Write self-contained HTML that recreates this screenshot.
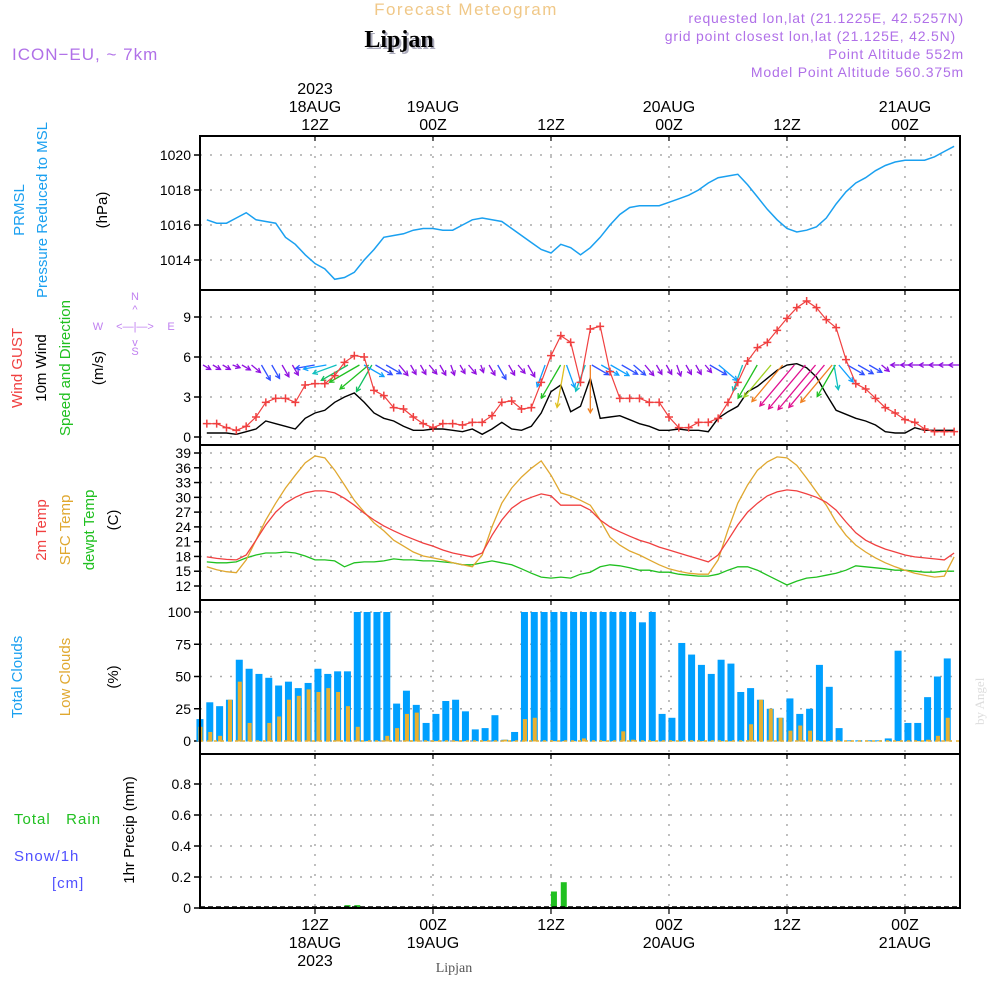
<!DOCTYPE html>
<html><head><meta charset="utf-8"><style>
body{margin:0;background:#fff}
svg{display:block;font-family:"Liberation Sans",sans-serif}
</style></head><body>
<svg id="c" width="1000" height="1000" viewBox="0 0 1000 1000">
<text x="466" y="15" font-size="17" fill="#f0c888" text-anchor="middle" letter-spacing="1.5">Forecast Meteogram</text>
<text x="401" y="49" font-size="24" font-weight="bold" fill="#aab" text-anchor="middle" font-family="Liberation Serif">Lipjan</text>
<text x="399" y="47" font-size="24" font-weight="bold" fill="#000" text-anchor="middle" font-family="Liberation Serif">Lipjan</text>
<text x="12" y="60" font-size="17" fill="#b070e8" letter-spacing="1">ICON−EU, ~ 7km</text>
<g font-size="14" fill="#b070e8" text-anchor="end" letter-spacing="0.8">
<text x="964" y="23">requested lon,lat (21.1225E, 42.5257N)</text>
<text x="956" y="41">grid point closest lon,lat (21.125E, 42.5N)</text>
<text x="964" y="59">Point Altitude 552m</text>
<text x="964" y="77">Model Point Altitude 560.375m</text>
</g>
<g id="plots"></g>
<text x="454" y="972" font-size="14" fill="#555" text-anchor="middle" font-family="Liberation Serif">Lipjan</text>
<text x="0" y="0" font-size="13" fill="#ddd" font-family="Liberation Serif" transform="translate(984,725) rotate(-90)">by Angel</text>
</svg>
<script>
const pressure=[1016.3,1016.1,1016.1,1016.4,1016.7,1016.3,1016.2,1016.1,1015.3,1014.9,1014.3,1013.8,1013.5,1012.9,1013.0,1013.3,1014.0,1014.6,1015.3,1015.4,1015.5,1015.7,1015.8,1015.8,1015.7,1015.7,1016.0,1016.3,1016.4,1016.3,1016.2,1015.8,1015.4,1015.0,1014.6,1014.4,1014.9,1014.7,1014.3,1014.7,1015.3,1016.0,1016.6,1017.0,1017.1,1017.1,1017.1,1017.3,1017.5,1017.7,1018.0,1018.4,1018.7,1018.8,1018.9,1018.3,1017.6,1016.9,1016.3,1015.8,1015.6,1015.7,1015.9,1016.4,1017.2,1017.9,1018.4,1018.7,1019.1,1019.4,1019.6,1019.7,1019.7,1019.7,1019.9,1020.2,1020.5];
const gust=[1.0,1.0,0.7,0.5,0.8,1.5,2.6,2.9,2.9,2.6,3.9,4.0,4.0,4.6,5.6,6.1,6.0,3.5,3.1,2.2,2.1,1.5,1.0,0.7,1.0,1.0,0.9,1.1,1.1,1.6,2.6,2.7,2.1,2.2,4.1,6.1,7.6,7.1,4.1,8.1,8.3,4.9,2.9,2.9,2.9,2.6,2.6,1.5,0.7,0.7,1.1,1.1,1.4,2.6,4.1,5.7,6.7,7.1,8.0,8.9,9.7,10.2,9.7,8.8,8.2,5.8,4.0,3.6,2.9,2.2,1.8,1.3,1.1,0.6,0.4,0.4,0.4];
const wind=[0.3,0.3,0.3,0.2,0.4,0.6,1.2,1.0,0.8,0.6,1.4,1.8,2.0,2.6,3.0,3.3,2.6,1.8,1.4,1.2,0.8,0.5,0.5,0.6,0.6,0.5,0.4,0.6,0.2,0.6,1.1,0.6,0.5,0.8,1.8,3.4,3.9,1.9,2.3,4.4,1.4,1.5,1.6,1.3,1.0,0.8,0.5,0.5,0.6,0.5,0.5,0.4,1.4,1.9,2.3,3.4,3.8,4.4,5.0,5.4,5.5,5.2,4.5,3.2,2.0,1.7,1.4,1.2,0.9,0.4,0.3,0.3,0.7,0.5,0.5,0.5,0.5];
const windDir=[300,300,300,290,300,310,330,330,330,330,80,80,70,60,60,50,30,300,300,300,320,330,330,320,330,340,330,320,340,330,330,330,320,330,20,30,10,340,20,0,300,300,300,300,310,320,330,330,340,330,330,320,300,310,20,30,40,40,40,40,40,40,40,30,350,320,300,300,300,310,90,90,90,90,90,90,90];
const temp2m=[17.9,17.6,17.4,17.3,18.3,21.3,24.4,27.0,28.8,30.0,30.9,31.3,31.3,30.9,29.8,28.4,26.8,25.4,24.2,23.2,22.3,21.5,20.7,20.1,19.3,18.7,18.3,17.9,18.7,22.3,25.4,27.8,29.2,30.0,30.7,30.3,28.4,28.4,28.4,27.4,25.4,24.0,23.0,22.1,21.3,20.7,19.9,19.3,18.7,18.1,17.5,16.9,18.3,21.3,24.4,27.0,28.8,30.3,31.1,31.5,31.3,30.7,30.0,29.0,27.4,25.0,22.8,21.3,20.3,19.5,18.9,18.3,17.9,17.7,17.5,17.3,18.7];
const sfcTemp=[15.9,15.3,14.9,14.7,17.3,21.3,25.4,28.8,31.9,34.5,37.0,38.4,38.0,35.5,32.5,29.4,27.0,24.8,23.2,21.3,20.1,18.9,18.1,17.7,17.3,16.7,16.3,15.9,18.3,24.0,28.8,31.9,34.1,35.9,37.4,34.5,30.9,30.3,29.4,28.4,25.4,21.9,20.3,19.1,18.3,17.3,16.3,15.5,15.0,14.6,14.4,14.4,17.3,23.4,28.8,32.5,35.5,37.2,38.2,38.0,36.5,33.9,31.1,28.4,25.0,22.3,20.3,18.9,17.7,16.7,15.9,15.2,14.6,14.2,13.8,14.0,17.9];
const dewpt=[16.9,16.7,16.7,16.9,17.7,18.3,18.7,18.7,18.9,18.7,18.1,17.3,17.3,17.1,15.9,16.7,16.9,16.9,17.1,17.5,17.3,17.3,17.1,17.1,16.9,16.7,16.3,16.3,16.7,17.1,16.7,16.3,15.5,14.6,13.8,13.6,13.8,13.6,14.4,14.8,15.9,16.3,16.1,15.7,15.2,15.2,14.8,14.8,14.4,14.2,14.0,14.0,14.4,15.2,15.9,15.9,15.2,14.2,13.2,12.2,13.0,13.6,13.8,14.2,14.6,15.2,16.1,15.9,15.7,15.5,15.2,15.2,15.0,14.8,14.8,15.0,15.0];
const totalClouds=[17,30,27,32,63,56,52,49,43,46,41,45,56,52,54,54,100,100,100,100,29,39,28,14,21,31,32,23,9,10,20,1,7,100,100,100,100,100,100,100,100,100,100,100,100,92,100,21,18,76,67,59,52,63,60,38,41,32,25,18,33,21,25,59,42,10,0.5,0.5,0.5,0.5,2,70,14,14,34,50,64];
const lowClouds=[11,7,4,32,46,14,0,14,19,32,35,40,38,41,38,27,11,0,0,4,10,21,22,0,0,0,0,0,0,0,0,1,0,17,18,0,0,0,0,2,0,0,0,7.5,1,0,0,0,0,0,0,0,0,0,0,0,13,32,25,18,8,12,8,0,0,0,0,0,0,0,0,0,0,0,1,4,18];
const precip=[0,0,0,0,0,0,0,0,0,0,0,0,0,0,0,0.012,0.012,0,0,0,0,0,0,0,0,0,0,0,0,0,0,0,0,0,0,0,0.1,0.16,0,0,0,0,0,0,0,0,0,0,0,0,0,0,0,0,0,0,0,0,0,0,0,0,0,0,0,0,0,0,0,0,0,0,0,0,0,0,0];
const pressTicks=[1014,1016,1018,1020];
const windTicks=[0,3,6,9];
const tempTicks=[12,15,18,21,24,27,30,33,36,39];
const cloudTicks=[0,25,50,75,100];
const precipTicks=[0,0.2,0.4,0.6,0.8];
const timeTicks=[12,24,36,48,60,72];
const topLabels=[["2023","18AUG","12Z"],["19AUG","00Z"],["12Z"],["20AUG","00Z"],["12Z"],["21AUG","00Z"]];
const bottomLabels=[["12Z","18AUG","2023"],["00Z","19AUG"],["12Z"],["00Z","20AUG"],["12Z"],["00Z","21AUG"]];

const NS='http://www.w3.org/2000/svg';
const G=document.getElementById('plots');
const X0=200,X1=960;
function xs(t){return 197+t*9.833;}
function mk(tag,at,parent){const e=document.createElementNS(NS,tag);for(const k in at)e.setAttribute(k,at[k]);(parent||G).appendChild(e);return e;}
function lin(d0,d1,r0,r1){return v=>r0+(v-d0)*(r1-r0)/(d1-d0);}
const yP=lin(1014,1020,260,155), yW=lin(0,9,437,317), yT=lin(12,39,586,453), yC=lin(0,100,741,612), yR=lin(0,0.8,908,784);
const panels=[[136,290,pressTicks,yP,v=>String(v)],[290,445,windTicks,yW,v=>String(v)],[445,600,tempTicks,yT,v=>String(v)],[600,754,cloudTicks,yC,v=>String(v)],[754,908,precipTicks,yR,v=>v===0?'0':v.toFixed(1)]];
panels.forEach((p,pi)=>{
  const g=mk('g',{});
  
  
  p[2].forEach(v=>{
    const y=p[3](v);
    const gl=mk('line',{x1:X0,x2:X1,y1:y,y2:y,stroke:'#aaa','stroke-dasharray':'2,8','stroke-width':1.5},g);
    
    
    mk('line',{x1:X0-6,x2:X0,y1:y,y2:y,stroke:'#000','stroke-width':1.5},g);
    const t=mk('text',{x:X0-9,y:y+5,'font-size':14,'text-anchor':'end',fill:'#000'},g);
    t.textContent=p[4](v);
    
    
  });
  timeTicks.forEach(tt=>{
    const x=xs(tt);
    const vl=mk('line',{x1:x,x2:x,y1:p[0],y2:p[1],stroke:'#aaa','stroke-dasharray':'2,8','stroke-width':1.5},g);
    
    
    mk('line',{x1:x,x2:x,y1:p[0],y2:p[0]+5,stroke:'#000','stroke-width':1.2},g);
  });
});
timeTicks.forEach((tt,i)=>{
  const x=xs(tt);
  const tl=topLabels[i];
  tl.forEach((s,j)=>{const t=mk('text',{x:x,y:126-(tl.length-1-j)*18+4,'font-size':16,'text-anchor':'middle'});t.textContent=s;
    
    });
  bottomLabels[i].forEach((s,j)=>{const t=mk('text',{x:x,y:930+j*18,'font-size':16,'text-anchor':'middle'});t.textContent=s;
    
    });
  mk('line',{x1:x,x2:x,y1:908,y2:914,stroke:'#000','stroke-width':1.2});
});
function path(arr,yf,color,w,name){
  const d=arr.map((v,i)=>(i?'L':'M')+xs(i+1).toFixed(1)+','+yf(v).toFixed(1)).join('');
  const p=mk('path',{d:d,fill:'none',stroke:color,'stroke-width':w||1.3});
  
  
  return p;
}
path(pressure,yP,'#1aa0f0',1.5,'pressure-line');
totalClouds.forEach((v,i)=>{const x=xs(i+0.3);
  const r=mk('rect',{x:x-3.5,y:yC(v),width:7,height:yC(0)-yC(v)+0.5,fill:'#00a0ff'});
  
  });
lowClouds.forEach((v,i)=>{const x=xs(i+0.3);
  const r=mk('rect',{x:x-1.5,y:yC(v),width:4,height:yC(0)-yC(v)+0.5,fill:'#e8b030'});
  
  });
mk('line',{x1:X0,x2:X1,y1:741,y2:741,stroke:'#e8b030','stroke-dasharray':'3,4','stroke-width':1.5});
precip.forEach((v,i)=>{if(v<=0)return;const x=xs(i+0.3);
  const r=mk('rect',{x:x-3,y:yR(v)-1,width:6,height:yR(0)-yR(v)+1,fill:'#20c020'});
  
  });
mk('line',{x1:X0,x2:X1,y1:907,y2:907,stroke:'#000','stroke-dasharray':'5,3','stroke-width':1.5});
path(dewpt,yT,'#20c020',1.3,'dewpoint-line');
path(sfcTemp,yT,'#e0a830',1.3,'sfc-temp-line');
path(temp2m,yT,'#f04040',1.3,'temp-2m-line');
path(wind,yW,'#000',1.4,'wind-speed-line');
function wcol(s){if(s<0.9)return '#9010e0';if(s<1.5)return '#3050ff';if(s<2)return '#10a0ff';if(s<2.5)return '#10c0c0';if(s<3)return '#10c060';if(s<3.5)return '#20c020';if(s<3.9)return '#a0d020';if(s<4.3)return '#e0c020';if(s<4.7)return '#f08020';return '#e01090';}
wind.forEach((s,i)=>{
  const x=xs(i+1), y=365;
  const L=6+s*9.5, a=(windDir[i]+180)*Math.PI/180;
  const dx=Math.sin(a)*L, dy=-Math.cos(a)*L;
  const x2=x+dx*0.5, y2=y+dy*0.5, x1=x-dx*0.5, y1=y-dy*0.5;
  const ya=Math.min(y1,y2)<365?365-Math.min(y1,y2):0;
  const c=wcol(s);
  const g=mk('g',{stroke:c,'stroke-width':1.3,fill:'none'});
  
  
  const sx=x1, sy=y1+ya, ex=x2, ey=y2+ya;
  mk('line',{x1:sx,y1:sy,x2:ex,y2:ey},g);
  const h=5, b=Math.atan2(ey-sy,ex-sx);
  mk('path',{d:`M${ex-h*Math.cos(b-0.5)},${ey-h*Math.sin(b-0.5)}L${ex},${ey}L${ex-h*Math.cos(b+0.5)},${ey-h*Math.sin(b+0.5)}`},g);
});
path(gust,yW,'#f04040',1.2,'gust-line');
gust.forEach((v,i)=>{const x=xs(i+1),y=yW(v);
  const m=mk('path',{d:`M${x-4},${y}H${x+4}M${x},${y-4}V${y+4}`,stroke:'#f04040','stroke-width':1.5});
  
  });
panels.forEach(p=>{mk('rect',{x:X0,y:p[0],width:X1-X0,height:p[1]-p[0],fill:'none',stroke:'#000','stroke-width':2});});
function vt(x,y,s,c,fs,name){const t=mk('text',{x:0,y:0,'font-size':fs||15,fill:c,'text-anchor':'middle',transform:`translate(${x},${y}) rotate(-90)`});t.textContent=s;
  
  }
vt(24,210,'PRMSL','#1aa0f0',15,'pressure-label');
vt(47,210,'Pressure Reduced to MSL','#1aa0f0',15,'pressure-label-2');
vt(107,210,'(hPa)','#000',15,'pressure-unit');
vt(22,368,'Wind GUST','#f04040',15,'gust-label');
vt(46,368,'10m Wind','#000',15,'wind-label');
vt(70,368,'Speed and Direction','#20c020',15,'wind-label-2');
vt(103,368,'(m/s)','#000',15,'wind-unit');
vt(46,530,'2m Temp','#f04040',15,'temp-2m-label');
vt(70,530,'SFC Temp','#e0a830',15,'sfc-temp-label');
vt(94,530,'dewpt Temp','#20c020',15,'dewpt-label');
vt(118,520,'(C)','#000',15,'temp-unit');
vt(22,677,'Total Clouds','#1aa0f0',15,'total-clouds-label');
vt(70,677,'Low Clouds','#e0a830',15,'low-clouds-label');
vt(118,677,'(%)','#000',15,'clouds-unit');
vt(134,830,'1hr Precip (mm)','#000',15,'precip-unit');
[['Total   Rain',14,824,'#20c020'],['Snow/1h',14,861,'#5050ff'],['[cm]',52,888,'#5050ff']].forEach(a=>{const t=mk('text',{x:a[1],y:a[2],'font-size':15,fill:a[3],'letter-spacing':1,style:'white-space:pre'});t.textContent=a[0];
  
  });
const cg=mk('g',{fill:'#c080f0','font-size':11,'text-anchor':'middle'});


[['N',135,300],['S',135,355],['W',98,330],['E',171,330],['^',135,313],['v',135,346],['<—|—>',135,330]].forEach(a=>{const t=mk('text',{x:a[1],y:a[2]},cg);t.textContent=a[0];});
</script>
</body></html>
